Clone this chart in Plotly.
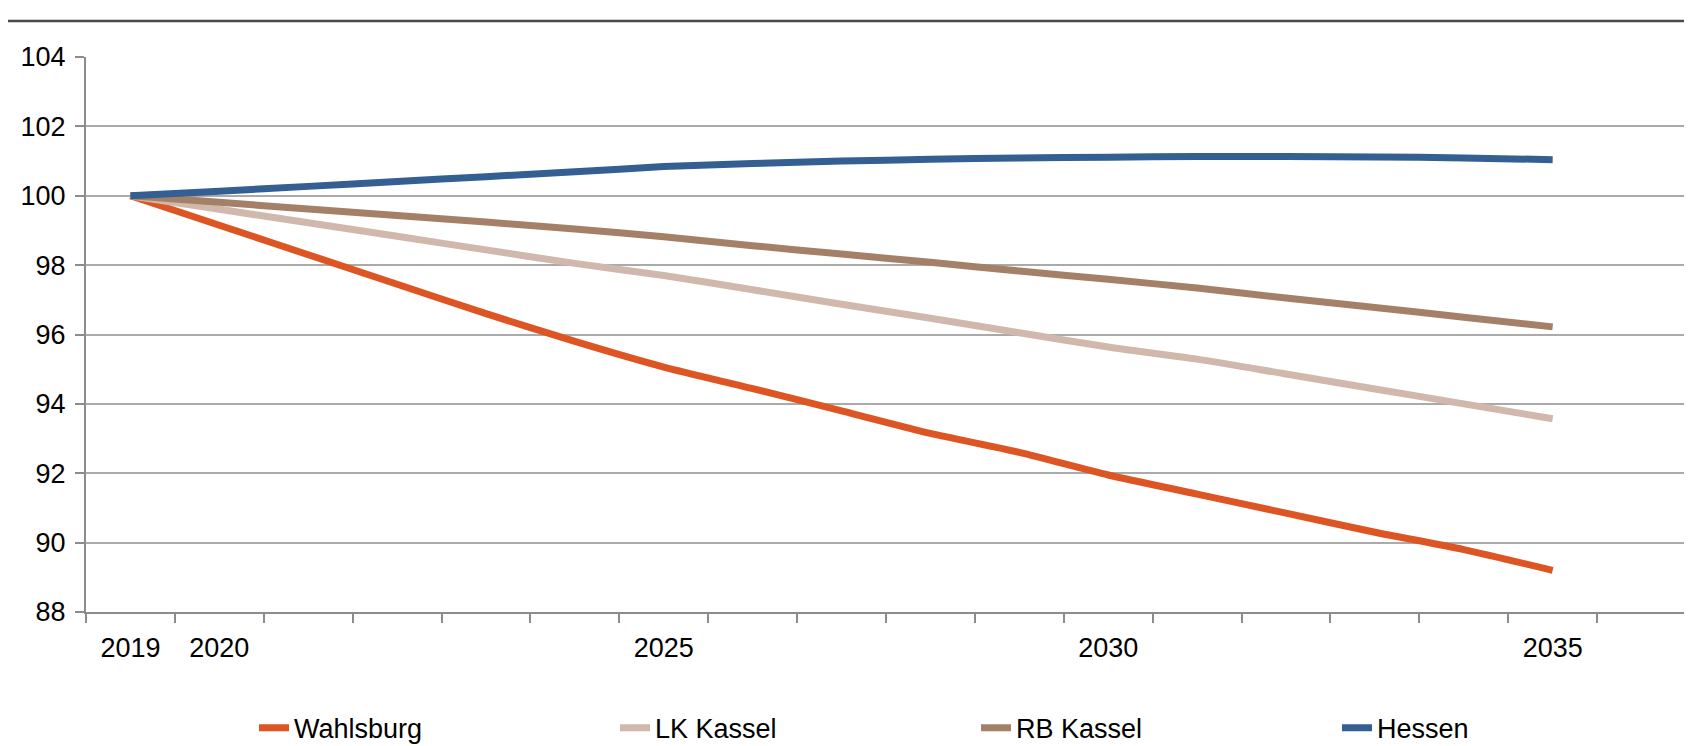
import plotly.graph_objects as go

# Bevölkerungsentwicklung, Index 2019 = 100
years = list(range(2019, 2036))

wahlsburg = [100, 99.15, 98.30, 97.45, 96.60, 95.80, 95.06, 94.44, 93.80,
             93.15, 92.60, 91.95, 91.40, 90.85, 90.30, 89.80, 89.20]
lk_kassel = [100, 99.61, 99.22, 98.83, 98.44, 98.05, 97.70, 97.29, 96.87,
             96.47, 96.05, 95.64, 95.29, 94.86, 94.43, 94.00, 93.57]
rb_kassel = [100, 99.81, 99.62, 99.43, 99.24, 99.04, 98.82, 98.56, 98.32,
             98.08, 97.83, 97.59, 97.34, 97.05, 96.78, 96.50, 96.22]
hessen = [100, 100.13, 100.27, 100.41, 100.55, 100.69, 100.84, 100.93, 101.00,
          101.05, 101.09, 101.11, 101.13, 101.13, 101.12, 101.09, 101.04]

series = [
    ("Wahlsburg", wahlsburg, "#DE5524"),
    ("LK Kassel", lk_kassel, "#D0B9AC"),
    ("RB Kassel", rb_kassel, "#A58068"),
    ("Hessen", hessen, "#345F92"),
]

label_years = [2019, 2020, 2025, 2030, 2035]

FONT = "Liberation Sans Narrow, Arial Narrow, Liberation Sans, Arial, sans-serif"
AXIS_GRAY = "#8C8C8C"

fig = go.Figure()
for name, values, color in series:
    fig.add_trace(go.Scatter(
        x=years,
        y=values,
        name=name,
        mode="lines",
        line=dict(color=color, width=7, shape="spline", smoothing=0.7),
    ))

# thin rule at the top of the page, left over from the report layout
fig.add_shape(
    type="line", xref="paper", yref="paper",
    x0=-0.06, x1=1.01, y0=1.065, y1=1.065,
    line=dict(color="#4A4A4A", width=2.5),
)

# the page body adds an 8px margin, so the figure is 8px smaller
fig.update_layout(
    width=1684,
    height=738,
    paper_bgcolor="white",
    plot_bgcolor="white",
    font=dict(family=FONT, size=27, color="black"),
    margin=dict(l=78, r=6, t=49, b=134, autoexpand=False),
    showlegend=True,
    legend=dict(
        orientation="h",
        x=0.105, xanchor="left",
        y=-0.165, yanchor="top",
        entrywidth=316,
        font=dict(size=27),
        itemwidth=30,
    ),
    xaxis=dict(
        range=[2018.5, 2036.5],
        tickvals=label_years,
        ticktext=[str(y) for y in label_years],
        ticks="outside",
        ticklen=9,
        tickcolor="rgba(0,0,0,0)",
        ticklabelstandoff=2,
        showgrid=False,
        zeroline=False,
        showline=True,
        linecolor=AXIS_GRAY,
        linewidth=2,
        minor=dict(
            tick0=2018.5, dtick=1, ticks="outside", ticklen=9,
            tickcolor=AXIS_GRAY, tickwidth=2, showgrid=False,
        ),
    ),
    yaxis=dict(
        range=[88, 104],
        dtick=2,
        ticks="outside",
        ticklen=9,
        tickwidth=2,
        tickcolor=AXIS_GRAY,
        ticklabelstandoff=4,
        showgrid=True,
        gridcolor="#AAAAAA",
        gridwidth=1.5,
        zeroline=False,
        showline=True,
        linecolor=AXIS_GRAY,
        linewidth=2,
    ),
)

fig.write_html("out.html")
